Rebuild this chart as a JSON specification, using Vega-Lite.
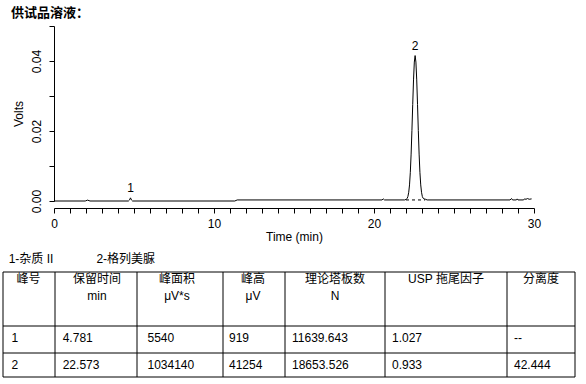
{
  "$schema": "https://vega.github.io/schema/vega-lite/v6.json",
  "width": 480,
  "height": 175,
  "autosize": {"type": "none"},
  "padding": {"left": 54, "top": 26, "right": 52, "bottom": 183},
  "background": "white",
  "title": {"text": "供试品溶液：", "anchor": "start", "frame": "group", "dx": -43, "offset": 6, "font": "Noto Sans CJK SC", "fontSize": 13, "fontWeight": "bold", "color": "black"},
  "config": {
    "view": {"stroke": null},
    "font": "Liberation Sans, Noto Sans CJK SC",
    "axis": {"domainColor": "black", "tickColor": "black", "labelColor": "black", "titleColor": "black", "grid": false, "labelFont": "Liberation Sans", "titleFont": "Liberation Sans", "labelFontSize": 12, "titleFontSize": 12, "titleFontWeight": "normal", "labelFlush": false, "labelOverlap": false, "ticks": true, "tickOpacity": 1}
  },
  "datasets": {
    "trace": [
      {"t": 0, "v": 0}, {"t": 1.95, "v": 0}, {"t": 2.1, "v": 0.00025}, {"t": 2.25, "v": 0},
      {"t": 4.65, "v": 0}, {"t": 4.72, "v": 0.0003}, {"t": 4.78, "v": 0.0009}, {"t": 4.84, "v": 0.0003}, {"t": 4.91, "v": 0},
      {"t": 11.3, "v": 0}, {"t": 11.45, "v": 0.0003}, {"t": 20.5, "v": 0.0003}, {"t": 20.58, "v": 0.0006}, {"t": 20.66, "v": 0.0003},
      {"t": 21.92, "v": 0.0003}, {"t": 22.02, "v": 0.0005}, {"t": 22.07, "v": 0.0007}, {"t": 22.12, "v": 0.0013}, {"t": 22.17, "v": 0.0025},
      {"t": 22.22, "v": 0.0046}, {"t": 22.27, "v": 0.0082}, {"t": 22.32, "v": 0.0134}, {"t": 22.37, "v": 0.0201}, {"t": 22.42, "v": 0.0276},
      {"t": 22.47, "v": 0.0346}, {"t": 22.52, "v": 0.0397}, {"t": 22.57, "v": 0.04155}, {"t": 22.62, "v": 0.0397}, {"t": 22.67, "v": 0.0346},
      {"t": 22.72, "v": 0.0276}, {"t": 22.77, "v": 0.0201}, {"t": 22.82, "v": 0.0134}, {"t": 22.87, "v": 0.0082}, {"t": 22.92, "v": 0.0046},
      {"t": 22.97, "v": 0.0025}, {"t": 23.02, "v": 0.0013}, {"t": 23.07, "v": 0.0008}, {"t": 23.12, "v": 0.0006}, {"t": 23.22, "v": 0.0005},
      {"t": 23.32, "v": 0.0003}, {"t": 28.5, "v": 0.0003}, {"t": 28.6, "v": 0.0007}, {"t": 28.66, "v": 0.0003}, {"t": 28.9, "v": 0.0003},
      {"t": 28.95, "v": 0.0006}, {"t": 29.0, "v": 0.0003}, {"t": 29.35, "v": 0.0003}, {"t": 29.4, "v": 0.0006}, {"t": 29.5, "v": 0.0005},
      {"t": 29.6, "v": 0.0007}, {"t": 29.7, "v": 0.0005}, {"t": 29.85, "v": 0.0006}
    ],
    "baseline": [{"t": 22.0, "t2": 23.2, "v": 0.0003}],
    "peaks": [{"label": "1", "t": 4.781, "v": 0.0009}, {"label": "2", "t": 22.573, "v": 0.04155}],
    "colEdges": [{"edge": 0}, {"edge": 1}, {"edge": 2}, {"edge": 3}, {"edge": 4}, {"edge": 5}, {"edge": 6}, {"edge": 7}],
    "rowEdges": [{"edge": 0}, {"edge": 1}, {"edge": 2}, {"edge": 3}],
    "headers": [
      {"col": 0, "value": "峰号"}, {"col": 1, "value": "保留时间\nmin"}, {"col": 2, "value": "峰面积\nμV*s"},
      {"col": 3, "value": "峰高\nμV"}, {"col": 4, "value": "理论塔板数\nN"}, {"col": 5, "value": "USP 拖尾因子"}, {"col": 6, "value": "分离度"}
    ],
    "cells": [
      {"row": 1, "col": 0, "value": "1"}, {"row": 1, "col": 1, "value": "4.781"}, {"row": 1, "col": 2, "value": "5540"},
      {"row": 1, "col": 3, "value": "919"}, {"row": 1, "col": 4, "value": "11639.643"}, {"row": 1, "col": 5, "value": "1.027"}, {"row": 1, "col": 6, "value": "--"},
      {"row": 2, "col": 0, "value": "2"}, {"row": 2, "col": 1, "value": "22.573"}, {"row": 2, "col": 2, "value": "1034140"},
      {"row": 2, "col": 3, "value": "41254"}, {"row": 2, "col": 4, "value": "18653.526"}, {"row": 2, "col": 5, "value": "0.933"}, {"row": 2, "col": 6, "value": "42.444"}
    ],
    "legend": [{"slot": 1, "label": "1-杂质 II"}, {"slot": 2, "label": "2-格列美脲"}]
  },
  "layer": [
    {
      "layer": [
        {
          "data": {"name": "trace"},
          "mark": {"type": "line", "color": "black", "strokeWidth": 1},
          "encoding": {
            "x": {"field": "t", "type": "quantitative", "scale": {"domain": [0, 30], "nice": false},
              "axis": {"title": "Time (min)", "values": [0,1,2,3,4,5,6,7,8,9,10,11,12,13,14,15,16,17,18,19,20,21,22,23,24,25,26,27,28,29,30], "tickCount": 100,
                "labelExpr": "datum.value % 10 === 0 ? format(datum.value, 'd') : ''", "labelOverlap": false, "labelBound": false, "ticks": true, "tickColor": "black", "tickOpacity": 1, "tickSize": 5, "tickWidth": 1, "zindex": 1, "offset": 7, "labelPadding": 5, "titlePadding": 2}},
            "y": {"field": "v", "type": "quantitative", "scale": {"domain": [0, 0.05], "nice": false},
              "axis": {"title": "Volts", "values": [0, 0.01, 0.02, 0.03, 0.04, 0.05], "tickCount": 100,
                "labelExpr": "round(datum.value * 100) % 2 === 0 && datum.value < 0.045 ? format(datum.value, '.2f') : ''",
                "labelOverlap": false, "labelBound": false, "ticks": true, "tickColor": "black", "tickOpacity": 1, "tickSize": 5, "tickWidth": 1, "zindex": 1, "labelAngle": 270, "labelAlign": "center", "labelBaseline": "bottom", "labelPadding": 6, "titlePadding": 5}}
          }
        },
        {
          "data": {"name": "baseline"},
          "mark": {"type": "rule", "color": "black", "strokeWidth": 1, "strokeDash": [3, 3]},
          "encoding": {"x": {"field": "t", "type": "quantitative"}, "x2": {"field": "t2"}, "y": {"field": "v", "type": "quantitative"}}
        },
        {
          "data": {"name": "peaks"},
          "mark": {"type": "text", "font": "Liberation Sans", "fontSize": 12, "baseline": "alphabetic", "dy": -6, "color": "black"},
          "encoding": {"x": {"field": "t", "type": "quantitative"}, "y": {"field": "v", "type": "quantitative"}, "text": {"field": "label"}}
        }
      ]
    },
    {
      "layer": [
        {
          "layer": [
            {
              "data": {"name": "colEdges"},
              "mark": {"type": "rule", "color": "black", "strokeWidth": 1},
              "encoding": {
                "x": {"field": "edge", "type": "quantitative", "scale": {"domain": [0,1,2,3,4,5,6,7], "range": [-51,1,83,169,231,331,453,521], "nice": false, "zero": false}, "axis": null},
                "y": {"datum": 0, "type": "quantitative", "scale": {"domain": [-1,0,1,2,3], "range": [237,246,300,327,351], "nice": false, "zero": false}, "axis": null},
                "y2": {"datum": 3}
              }
            },
            {
              "data": {"name": "rowEdges"},
              "mark": {"type": "rule", "color": "black", "strokeWidth": 1},
              "encoding": {
                "y": {"field": "edge", "type": "quantitative", "axis": null},
                "x": {"datum": 0, "type": "quantitative", "axis": null},
                "x2": {"datum": 7}
              }
            }
          ]
        },
        {
          "data": {"name": "headers"},
          "mark": {"type": "text", "align": "center", "baseline": "top", "dy": 2, "fontSize": 12, "lineBreak": "\n", "lineHeight": 17, "color": "black", "font": "Liberation Sans, Noto Sans CJK SC"},
          "encoding": {
            "x": {"field": "col", "type": "quantitative", "scale": {"domain": [0,1,2,3,4,5,6], "range": [-25.5,43,123,199,281,392,487], "nice": false, "zero": false}, "axis": null},
            "y": {"datum": 0, "type": "quantitative", "scale": {"domain": [-1,0,1,2,3], "range": [237,246,300,327,351], "nice": false, "zero": false}, "axis": null},
            "text": {"field": "value"}
          }
        },
        {
          "data": {"name": "cells"},
          "mark": {"type": "text", "align": "left", "baseline": "alphabetic", "dy": 15.5, "fontSize": 12, "color": "black", "font": "Liberation Sans"},
          "encoding": {
            "x": {"field": "col", "type": "quantitative", "scale": {"domain": [0,1,2,3,4,5,6], "range": [-42.5,8.7,93.5,175,238,338,460], "nice": false, "zero": false}, "axis": null},
            "y": {"field": "row", "type": "quantitative", "scale": {"domain": [-1,0,1,2,3], "range": [237,246,300,327,351], "nice": false, "zero": false}, "axis": null},
            "text": {"field": "value"}
          }
        },
        {
          "data": {"name": "legend"},
          "mark": {"type": "text", "align": "left", "baseline": "alphabetic", "fontSize": 12, "color": "black", "font": "Liberation Sans, Noto Sans CJK SC"},
          "encoding": {
            "x": {"field": "slot", "type": "quantitative", "scale": {"domain": [1, 2], "range": [-45.3, 42.4], "nice": false, "zero": false}, "axis": null},
            "y": {"datum": -1, "type": "quantitative", "scale": {"domain": [-1,0,1,2,3], "range": [237,246,300,327,351], "nice": false, "zero": false}, "axis": null},
            "text": {"field": "label"}
          }
        }
      ],
      "resolve": {"scale": {"x": "independent", "y": "independent"}}
    }
  ],
  "resolve": {"scale": {"x": "independent", "y": "independent"}}
}
